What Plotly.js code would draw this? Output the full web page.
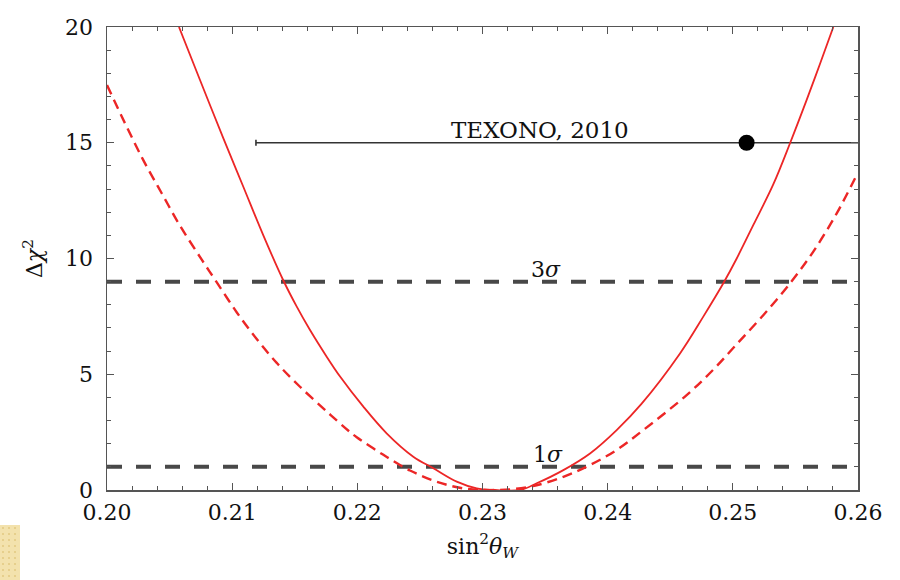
<!DOCTYPE html>
<html>
<head>
<meta charset="utf-8">
<script src="https://cdn.plot.ly/plotly-3.0.1.min.js"></script>
<style>
  html, body { margin: 0; padding: 0; background: #ffffff; }
  #chart { width: 900px; height: 580px; position: relative; }
  #corner {
    position: absolute; left: 0; top: 525px; width: 20px; height: 55px;
    background-color: #f3e2ad;
    background-image: radial-gradient(circle, #e6cf8c 1px, transparent 1.5px);
    background-size: 6px 6px;
  }
</style>
</head>
<body>
<div id="chart"></div>
<div id="corner"></div>
<script>
// Δχ² profile versus sin²θ_W — solid curve
const solidX = [0.20575, 0.20743, 0.20929, 0.21089, 0.21249, 0.21409, 0.21516, 0.21622,
                0.21755, 0.21862, 0.22048, 0.22234, 0.22447, 0.22607, 0.22794, 0.22954,
                0.2310, 0.2330, 0.23433, 0.23646, 0.23859, 0.24072, 0.2427, 0.24578,
                0.24764, 0.24924, 0.25031, 0.25164, 0.25323, 0.25457, 0.2559, 0.25696, 0.25803];
const solidY = [20.0, 17.71, 15.2, 13.10, 11.0, 9.05, 7.92, 6.91,
                5.76, 4.9, 3.60, 2.45, 1.44, 0.94, 0.36, 0.07,
                0.0, 0.0, 0.29, 0.86, 1.58, 2.59, 3.72, 5.90,
                7.49, 8.93, 10.0, 11.45, 13.2, 14.98, 16.85, 18.4, 20.0];

// Δχ² profile — dashed curve
const dashedX = [0.2000, 0.20144, 0.2029, 0.20437, 0.20583, 0.20757, 0.20876, 0.21036,
                 0.21196, 0.21356, 0.21542, 0.21768, 0.21929, 0.21995, 0.22208, 0.22421,
                 0.22634, 0.22847, 0.2311, 0.23379, 0.23646, 0.23859, 0.24072, 0.24285,
                 0.24631, 0.24844, 0.25031, 0.25243, 0.25457, 0.25643, 0.2583, 0.2599];
const dashedY = [17.49, 15.84, 14.25, 12.82, 11.42, 9.95, 8.98, 7.68,
                 6.52, 5.49, 4.46, 3.33, 2.56, 2.28, 1.52, 0.84,
                 0.36, 0.07, 0.0, 0.14, 0.57, 1.08, 1.73, 2.59,
                 4.10, 5.2, 6.30, 7.55, 8.93, 10.3, 11.95, 13.61];

// TEXONO 2010 measurement
const texonoX = [0.2511];
const texonoY = [15];
const texonoErr = [0.0392];
const texonoLabel = 'TEXONO, 2010';

// Confidence levels
const sigmaLevels = [1, 9];
const sigmaLabels = ['1<i>σ</i>', '3<i>σ</i>'];

const xRange = [0.20, 0.26];
const yRange = [0, 20];
const xTicks = [0.20, 0.21, 0.22, 0.23, 0.24, 0.25, 0.26];
const xTickText = ['0.20', '0.21', '0.22', '0.23', '0.24', '0.25', '0.26'];
const yTicks = [0, 5, 10, 15, 20];

const serif = 'DejaVu Serif, Liberation Serif, serif';
const ink = '#111111';
const frame = '#555555';
const red = 'rgb(236,38,38)';

const traces = [];

sigmaLevels.forEach(level => {
  traces.push({
    x: xRange, y: [level, level], mode: 'lines', type: 'scatter',
    line: { color: 'rgb(72,72,72)', width: 4, dash: '15px,14px' },
    hoverinfo: 'skip', showlegend: false
  });
});

traces.push({
  x: texonoX, y: texonoY, type: 'scatter', mode: 'markers',
  marker: { color: '#000000', size: 16 },
  error_x: { type: 'data', array: texonoErr, visible: true,
             color: '#333333', thickness: 1.6, width: 3 },
  showlegend: false
});

traces.push({
  x: dashedX, y: dashedY, type: 'scatter', mode: 'lines',
  line: { color: red, width: 2.4, dash: '10px,6px', shape: 'spline', smoothing: 1 },
  showlegend: false
});

traces.push({
  x: solidX, y: solidY, type: 'scatter', mode: 'lines',
  line: { color: red, width: 1.8, shape: 'spline', smoothing: 1 },
  showlegend: false
});

const annotations = [
  { x: 0.2346, y: texonoY[0], xref: 'x', yref: 'y', text: texonoLabel,
    showarrow: false, yanchor: 'bottom', yshift: -2,
    font: { family: serif, size: 23, color: ink } },
  { x: 0.2352, y: sigmaLevels[0], xref: 'x', yref: 'y', text: sigmaLabels[0],
    showarrow: false, yanchor: 'bottom', yshift: -2,
    font: { family: serif, size: 22, color: ink } },
  { x: 0.2351, y: sigmaLevels[1], xref: 'x', yref: 'y', text: sigmaLabels[1],
    showarrow: false, yanchor: 'bottom', yshift: -2,
    font: { family: serif, size: 22, color: ink } }
];

const axisCommon = {
  showgrid: false, zeroline: false,
  showline: true, linecolor: frame, linewidth: 1.5, mirror: 'ticks',
  ticks: 'inside', ticklen: 7, tickwidth: 1.2, tickcolor: frame,
  tickfont: { family: serif, size: 22, color: ink }
};

const layout = {
  width: 900, height: 580,
  margin: { l: 107, r: 42, t: 27, b: 90 },
  paper_bgcolor: '#ffffff', plot_bgcolor: '#ffffff',
  showlegend: false,
  xaxis: Object.assign({}, axisCommon, {
    range: xRange, tickvals: xTicks, ticktext: xTickText,
    ticklabelstandoff: 2,
    minor: { dtick: 0.002, tick0: 0.20, ticks: 'inside', ticklen: 4, tickcolor: frame, tickwidth: 1 },
    title: { text: 'sin<sup>2</sup><i>θ</i><sub><i>W</i></sub>', standoff: 14,
             font: { family: serif, size: 22, color: ink } }
  }),
  yaxis: Object.assign({}, axisCommon, {
    range: yRange, tickvals: yTicks,
    ticklabelstandoff: 8,
    minor: { dtick: 1, tick0: 0, ticks: 'inside', ticklen: 4, tickcolor: frame, tickwidth: 1 },
    title: { text: 'Δ<i>χ</i><sup>2</sup>', standoff: 16,
             font: { family: serif, size: 22, color: ink } }
  }),
  annotations: annotations
};

Plotly.newPlot('chart', traces, layout, { staticPlot: true, displayModeBar: false });
</script>
</body>
</html>
